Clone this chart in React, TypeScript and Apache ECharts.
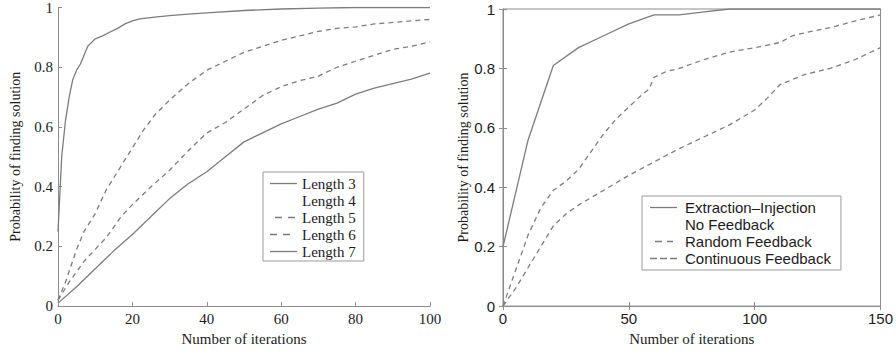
import React, { useEffect, useRef } from "react";
import * as echarts from "echarts";

// ---------- Left panel data (sequence length) ----------
const leftTicksX = [0, 20, 40, 60, 80, 100];
const length3X = [0, 1, 2, 3, 4, 5, 6, 8, 10, 12, 14, 16, 18, 20, 22, 26, 30, 35, 40, 50, 60, 70, 80, 90, 100];
const length3Y = [0.25, 0.5, 0.62, 0.7, 0.76, 0.79, 0.81, 0.87, 0.895, 0.905, 0.918, 0.93, 0.945, 0.955, 0.962, 0.968, 0.973, 0.978, 0.982, 0.99, 0.995, 0.998, 1, 1, 1];
const length4X: number[] = [];
const length4Y: number[] = [];
const length5X = [0, 2, 5, 7, 10, 13, 16, 20, 23, 26, 30, 35, 40, 45, 50, 55, 60, 65, 70, 75, 80, 85, 90, 95, 100];
const length5Y = [0.02, 0.08, 0.19, 0.25, 0.31, 0.39, 0.45, 0.53, 0.59, 0.64, 0.69, 0.745, 0.79, 0.82, 0.85, 0.87, 0.89, 0.905, 0.92, 0.93, 0.935, 0.945, 0.95, 0.955, 0.96];
const length6X = [0, 3, 7, 10, 13, 17, 20, 25, 30, 35, 40, 45, 50, 55, 60, 65, 70, 75, 80, 85, 90, 95, 100];
const length6Y = [0.02, 0.08, 0.15, 0.19, 0.23, 0.3, 0.34, 0.4, 0.455, 0.52, 0.58, 0.615, 0.66, 0.705, 0.735, 0.755, 0.77, 0.8, 0.82, 0.84, 0.86, 0.87, 0.885];
const length7X = [0, 5, 10, 15, 20, 25, 30, 35, 40, 45, 50, 55, 60, 65, 70, 75, 80, 85, 90, 95, 100];
const length7Y = [0.01, 0.065, 0.125, 0.185, 0.24, 0.3, 0.36, 0.41, 0.45, 0.5, 0.55, 0.58, 0.61, 0.635, 0.66, 0.68, 0.71, 0.73, 0.745, 0.76, 0.78];

// ---------- Right panel data (feedback) ----------
const extractionX = [0, 10, 20, 30, 40, 50, 60, 70, 80, 90, 100, 110, 120, 130, 140, 150];
const extractionY = [0.2, 0.56, 0.81, 0.87, 0.91, 0.95, 0.98, 0.98, 0.99, 1, 1, 1, 1, 1, 1, 1];
const noFeedbackX: number[] = [];
const noFeedbackY: number[] = [];
const randomX = [0, 5, 10, 15, 20, 25, 30, 35, 40, 45, 50, 55, 58, 60, 65, 70, 80, 90, 100, 110, 115, 120, 130, 140, 150];
const randomY = [0, 0.12, 0.24, 0.33, 0.39, 0.42, 0.46, 0.52, 0.58, 0.63, 0.67, 0.71, 0.73, 0.77, 0.79, 0.8, 0.83, 0.855, 0.87, 0.887, 0.91, 0.92, 0.937, 0.96, 0.98];
const continuousX = [0, 5, 10, 15, 20, 25, 30, 40, 50, 60, 70, 80, 90, 95, 100, 105, 110, 120, 130, 140, 150];
const continuousY = [0, 0.06, 0.13, 0.2, 0.27, 0.31, 0.34, 0.39, 0.44, 0.485, 0.53, 0.57, 0.61, 0.635, 0.66, 0.7, 0.745, 0.78, 0.8, 0.83, 0.87];

const leftNames = ["Length 3", "Length 4", "Length 5", "Length 6", "Length 7"];
const rightNames = ["Extraction\u2013Injection", "No Feedback", "Random Feedback", "Continuous Feedback"];

const zip = (xs: number[], ys: number[]) => xs.map((x, i) => [x, ys[i]]);

const SERIF = "'Liberation Serif', 'Times New Roman', serif";
const SANS = "'Liberation Sans', Arial, Helvetica, sans-serif";
const TEXT = "#1c1c1c";
const AXIS = "#8c8c8c";
const LINE = "#7c7c7c";

// legend icons (path bounding boxes include the move-to extents)
const iconSolidL = "path://M0,0M27,1.3M0,0H27V1.3H0Z";
const iconDashL5 = "path://M0,0M27,1.3M5,0H12V1.3H5Z M18,0H25V1.3H18Z";
const iconDashL6 = "path://M0,0M27,1.3M0,0H7V1.3H0Z M13,0H20V1.3H13Z";
const iconSolidR = "path://M0,0M30,1.3M0,0H27V1.3H0Z";
const iconDashR2 = "path://M0,0M30,1.3M5,0H12V1.3H5Z M17,0H23V1.3H17Z";
const iconDashR3 = "path://M0,0M30,1.3M0,0H7V1.3H0Z M10,0H17V1.3H10Z M20,0H27V1.3H20Z";

export default function App() {
  const ref = useRef<HTMLDivElement>(null);

  useEffect(() => {
    document.body.style.margin = "0";
    if (!ref.current) return;
    const chart = echarts.init(ref.current, undefined, { renderer: "svg" });

    const tick = { inside: true, length: 4, lineStyle: { color: AXIS, width: 1 } };
    const axisLine = { show: true, lineStyle: { color: AXIS, width: 1 } };

    const lineSeries = (
      name: string,
      data: number[][],
      idx: number,
      dashed: boolean,
      color = LINE
    ) => ({
      name,
      type: "line",
      xAxisIndex: idx === 0 ? 0 : 1,
      yAxisIndex: idx === 0 ? 0 : 1,
      data,
      symbol: "none",
      color,
      lineStyle: { color, width: 1.3, type: dashed ? [5, 4] : "solid" },
      silent: true,
    });

    const option: any = {
      animation: false,
      backgroundColor: "#ffffff",
      grid: [
        { left: 58, top: 7, width: 372, height: 302, containLabel: false },
        {
          left: 503,
          top: 9,
          width: 379,
          height: 301,
          containLabel: false,
          show: true,
          borderColor: AXIS,
          borderWidth: 1,
          backgroundColor: "transparent",
        },
      ],
      xAxis: [
        {
          gridIndex: 0,
          type: "value",
          min: leftTicksX[0],
          max: leftTicksX[leftTicksX.length - 1],
          interval: 20,
          axisLine,
          axisTick: tick,
          splitLine: { show: false },
          axisLabel: { fontFamily: SERIF, fontSize: 15, color: TEXT, margin: 5 },
          name: "Number of iterations",
          nameLocation: "middle",
          nameGap: 21,
          nameTextStyle: { fontFamily: SERIF, fontSize: 15, color: TEXT },
        },
        {
          gridIndex: 1,
          type: "value",
          min: 0,
          max: 150,
          interval: 50,
          axisLine,
          axisTick: tick,
          splitLine: { show: false },
          axisLabel: { fontFamily: SANS, fontSize: 15, color: TEXT, margin: 5 },
          name: "Number of iterations",
          nameLocation: "middle",
          nameGap: 20,
          nameTextStyle: { fontFamily: SERIF, fontSize: 15, color: TEXT },
        },
        {
          gridIndex: 1,
          type: "value",
          position: "top",
          min: 0,
          max: 150,
          interval: 50,
          axisLine,
          axisTick: tick,
          splitLine: { show: false },
          axisLabel: { show: false },
        },
      ],
      yAxis: [
        {
          gridIndex: 0,
          type: "value",
          min: 0,
          max: 1,
          interval: 0.2,
          axisLine,
          axisTick: tick,
          splitLine: { show: false },
          axisLabel: { fontFamily: SERIF, fontSize: 15, color: TEXT, margin: 5 },
          name: "Probability of finding solution",
          nameLocation: "middle",
          nameGap: 36,
          nameRotate: 90,
          nameTextStyle: { fontFamily: SERIF, fontSize: 14, color: TEXT },
        },
        {
          gridIndex: 1,
          type: "value",
          min: 0,
          max: 1,
          interval: 0.2,
          axisLine,
          axisTick: tick,
          splitLine: { show: false },
          axisLabel: { fontFamily: SANS, fontSize: 15, color: TEXT, margin: 8 },
          name: "Probability of finding solution",
          nameLocation: "middle",
          nameGap: 25,
          nameRotate: 90,
          nameTextStyle: { fontFamily: SERIF, fontSize: 14, color: TEXT },
        },
        {
          gridIndex: 1,
          type: "value",
          position: "right",
          min: 0,
          max: 1,
          interval: 0.2,
          axisLine,
          axisTick: tick,
          splitLine: { show: false },
          axisLabel: { show: false },
        },
      ],
      legend: [
        {
          data: [
            { name: leftNames[0], icon: iconSolidL },
            { name: leftNames[1], icon: iconSolidL },
            { name: leftNames[2], icon: iconDashL5 },
            { name: leftNames[3], icon: iconDashL6 },
            { name: leftNames[4], icon: iconSolidL },
          ],
          orient: "vertical",
          left: 263,
          top: 172,
          padding: [4, 8, 2, 7],
          itemGap: 2,
          itemWidth: 27,
          itemHeight: 1.3,
          symbolKeepAspect: false,
          itemStyle: { borderWidth: 0 },
          borderColor: "#9a9a9a",
          borderWidth: 1,
          backgroundColor: "#ffffff",
          selectedMode: false,
          textStyle: { fontFamily: SERIF, fontSize: 15, color: TEXT, padding: 0 },
        },
        {
          data: [
            { name: rightNames[0], icon: iconSolidR },
            { name: rightNames[1], icon: iconSolidR },
            { name: rightNames[2], icon: iconDashR2 },
            { name: rightNames[3], icon: iconDashR3 },
          ],
          orient: "vertical",
          left: 642,
          top: 196,
          padding: [4, 10, 4, 8],
          itemGap: 2,
          itemWidth: 30,
          itemHeight: 1.3,
          symbolKeepAspect: false,
          itemStyle: { borderWidth: 0 },
          borderColor: "#9a9a9a",
          borderWidth: 1,
          backgroundColor: "#ffffff",
          selectedMode: false,
          textStyle: { fontFamily: SANS, fontSize: 15, color: TEXT, padding: 0 },
        },
      ],
      series: [
        lineSeries(leftNames[0], zip(length3X, length3Y), 0, false),
        lineSeries(leftNames[1], zip(length4X, length4Y), 0, false, "rgba(0,0,0,0)"),
        lineSeries(leftNames[2], zip(length5X, length5Y), 0, true),
        lineSeries(leftNames[3], zip(length6X, length6Y), 0, true),
        lineSeries(leftNames[4], zip(length7X, length7Y), 0, false),
        lineSeries(rightNames[0], zip(extractionX, extractionY), 1, false),
        lineSeries(rightNames[1], zip(noFeedbackX, noFeedbackY), 1, false, "rgba(0,0,0,0)"),
        lineSeries(rightNames[2], zip(randomX, randomY), 1, true),
        lineSeries(rightNames[3], zip(continuousX, continuousY), 1, true),
      ],
    };

    chart.setOption(option);
    return () => {
      chart.dispose();
    };
  }, []);

  return <div ref={ref} style={{ width: 896, height: 351 }} />;
}
